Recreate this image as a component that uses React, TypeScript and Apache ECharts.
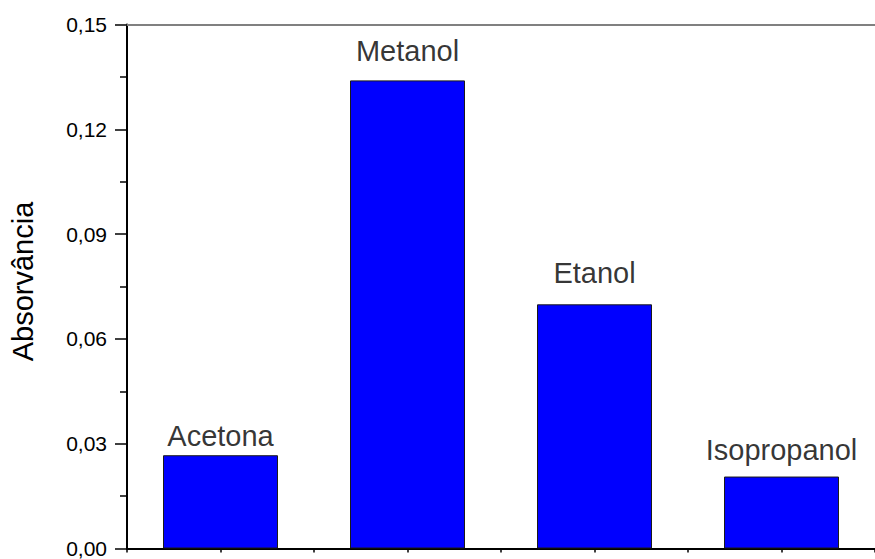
import React, { useEffect, useRef } from "react";
import * as echarts from "echarts";

const categories = ["Acetona", "Metanol", "Etanol", "Isopropanol"];
const absorbance = [0.0267, 0.134, 0.0699, 0.0206];
// vertical anchor (data units) of each bar annotation text
const labelAnchor = [0.0322, 0.1424, 0.0788, 0.0282];
const yTicks = { min: 0, max: 0.15, interval: 0.03 };
const yTitle = "Absorvância";

const FONT = "'Liberation Sans', Arial, Helvetica, sans-serif";

export default function App() {
  const ref = useRef<HTMLDivElement>(null);
  useEffect(() => {
    if (!ref.current) return;
    const chart = echarts.init(ref.current, undefined, { renderer: "svg" });
    chart.setOption({
      animation: false,
      backgroundColor: "#ffffff",
      textStyle: { fontFamily: FONT },
      grid: { left: 123, top: 24.5, width: 765, height: 525, containLabel: false },
      xAxis: [
        {
          type: "category",
          data: categories,
          position: "bottom",
          boundaryGap: true,
          axisLine: { show: true, onZero: false, lineStyle: { color: "#000", width: 2 } },
          axisTick: { show: true, alignWithLabel: true, length: 4, lineStyle: { color: "#000", width: 1.5 } },
          axisLabel: { show: false },
          splitLine: { show: false },
        },
        {
          type: "category",
          data: categories,
          position: "bottom",
          boundaryGap: true,
          axisLine: { show: false, onZero: false },
          axisTick: { show: true, length: 4, lineStyle: { color: "#000", width: 1.5 } },
          axisLabel: { show: false },
          splitLine: { show: false },
        },
        {
          type: "category",
          data: categories,
          position: "top",
          axisLine: { show: true, onZero: false, lineStyle: { color: "#808080", width: 2 } },
          axisTick: { show: false },
          axisLabel: { show: false },
          splitLine: { show: false },
        },
      ],
      yAxis: {
        type: "value",
        min: yTicks.min,
        max: yTicks.max,
        interval: yTicks.interval,
        name: yTitle,
        nameLocation: "middle",
        nameGap: 90,
        nameTextStyle: { fontSize: 29, color: "#000", fontFamily: FONT, padding: [0, 0, 0, 10] },
        axisLine: { show: true, lineStyle: { color: "#000", width: 2 } },
        axisTick: { show: true, length: 12, lineStyle: { color: "#000", width: 1.5 } },
        minorTick: { show: true, splitNumber: 2, length: 7, lineStyle: { color: "#000", width: 1.5 } },
        axisLabel: {
          fontSize: 21,
          color: "#000",
          margin: 20,
          fontFamily: FONT,
          formatter: (v: number) => v.toFixed(2).replace(".", ","),
        },
        splitLine: { show: false },
      },
      series: [
        {
          type: "bar",
          xAxisIndex: 0,
          data: absorbance,
          barWidth: 115,
          itemStyle: { color: "#0000ff", borderColor: "#1a1a1a", borderWidth: 1 },
        },
        {
          type: "scatter",
          xAxisIndex: 0,
          data: labelAnchor,
          symbolSize: 0,
          silent: true,
          itemStyle: { color: "#000" },
          label: {
            show: true,
            position: "inside",
            formatter: (p: any) => categories[p.dataIndex],
            fontSize: 29,
            color: "#000",
            textBorderWidth: 0,
            textBorderColor: "transparent",
            fontFamily: FONT,
          },
        },
      ],
    });
    return () => chart.dispose();
  }, []);
  return (
    <div
      ref={ref}
      style={{ position: "absolute", left: 0, top: 0, width: 875, height: 559, overflow: "hidden" }}
    />
  );
}
